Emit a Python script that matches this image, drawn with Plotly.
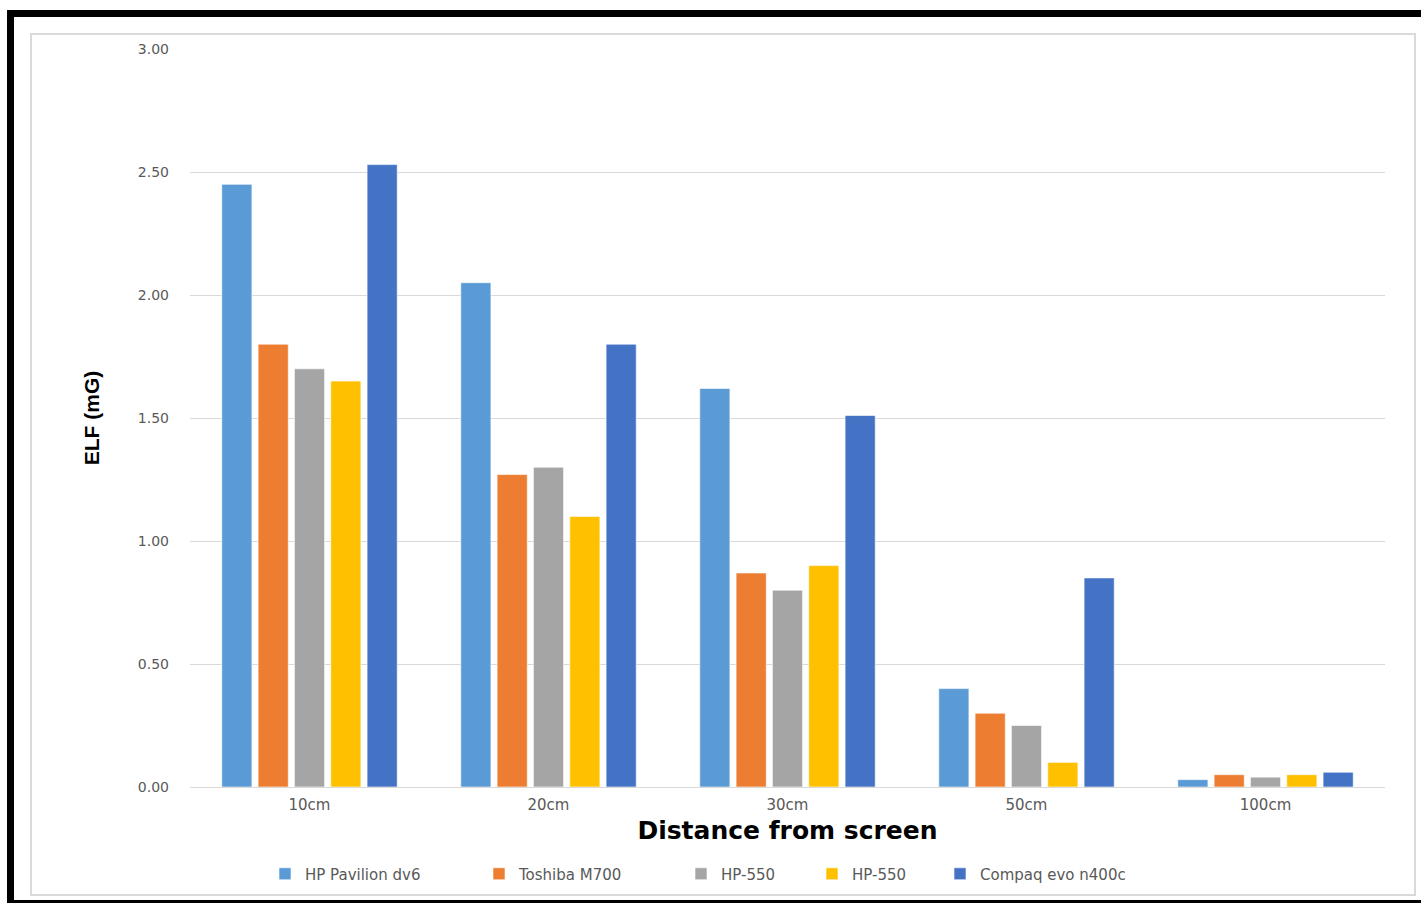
import plotly.graph_objects as go

categories = ["10cm", "20cm", "30cm", "50cm", "100cm"]
series_names = ["HP Pavilion dv6", "Toshiba M700", "HP-550", "HP-550", "Compaq evo n400c"]
hp_pavilion = [2.45, 2.05, 1.62, 0.40, 0.03]
toshiba = [1.80, 1.27, 0.87, 0.30, 0.05]
hp550_a = [1.70, 1.30, 0.80, 0.25, 0.04]
hp550_b = [1.65, 1.10, 0.90, 0.10, 0.05]
compaq = [2.53, 1.80, 1.51, 0.85, 0.06]
colors = ["#5B9BD5", "#ED7D31", "#A5A5A5", "#FFC000", "#4472C4"]
y_ticks = [0, 0.5, 1.0, 1.5, 2.0, 2.5, 3.0]
y_ticklabels = ["0.00", "0.50", "1.00", "1.50", "2.00", "2.50", "3.00"]

W, H = 1421, 903
L, R, T, B = 190, 36, 49, 116
PW, PH = W - L - R, H - T - B

def px(x):
    return (x - L) / PW

def py(y):
    return (H - B - y) / PH

legend_ids = ["legend", "legend2", "legend3", "legend4", "legend5"]
legend_x = [265, 479, 681, 812, 940]

fig = go.Figure()
for name, vals, c, lid in zip(series_names, [hp_pavilion, toshiba, hp550_a, hp550_b, compaq], colors, legend_ids):
    fig.add_trace(go.Bar(
        x=categories, y=vals, name=name, legend=lid,
        marker=dict(color=c, line=dict(color="rgba(255,255,255,0.6)", width=1)),
    ))

shapes = [
    dict(type="rect", xref="paper", yref="paper", x0=px(7), x1=px(1421), y0=py(10), y1=py(17),
         fillcolor="black", line=dict(width=0), layer="above"),
    dict(type="rect", xref="paper", yref="paper", x0=px(7), x1=px(14), y0=py(10), y1=py(903),
         fillcolor="black", line=dict(width=0), layer="above"),
    dict(type="rect", xref="paper", yref="paper", x0=px(7), x1=px(1421), y0=py(900), y1=py(903),
         fillcolor="black", line=dict(width=0), layer="above"),
    dict(type="rect", xref="paper", yref="paper", x0=px(31), x1=px(1415), y0=py(34), y1=py(895),
         fillcolor="rgba(0,0,0,0)", line=dict(color="#D9D9D9", width=2), layer="below"),
]

legend_layout = {}
for lid, lx in zip(legend_ids, legend_x):
    legend_layout[lid] = dict(
        orientation="h", x=px(lx), xanchor="left", y=py(874), yanchor="middle",
        font=dict(family="DejaVu Sans", size=15, color="#595959"),
        itemwidth=30, bgcolor="rgba(0,0,0,0)",
    )

fig.update_layout(
    width=W, height=H,
    margin=dict(l=L, r=R, t=T, b=B),
    paper_bgcolor="white", plot_bgcolor="white",
    barmode="group", bargap=0.24, bargroupgap=0.17,
    showlegend=True,
    xaxis=dict(
        showgrid=False, showline=True, linecolor="#D9D9D9", linewidth=1,
        ticks="", ticklabelstandoff=4,
        tickfont=dict(family="DejaVu Sans", size=15, color="#595959"),
        title=dict(text="<b>Distance from screen</b>", font=dict(family="DejaVu Sans", size=25, color="black"),
                   standoff=8),
    ),
    yaxis=dict(
        range=[0, 3.0], tickvals=y_ticks, ticktext=y_ticklabels,
        showgrid=True, gridcolor="#D9D9D9", gridwidth=1, zeroline=False,
        showline=False, ticks="", ticklabelstandoff=20,
        tickfont=dict(family="DejaVu Sans", size=14, color="#595959"),
        title=dict(text="<b>ELF (mG)</b>", font=dict(family="Liberation Sans Narrow, Liberation Sans", size=21, color="black"),
                   standoff=32),
    ),
    shapes=shapes,
    **legend_layout,
)

fig.write_html("out.html")
